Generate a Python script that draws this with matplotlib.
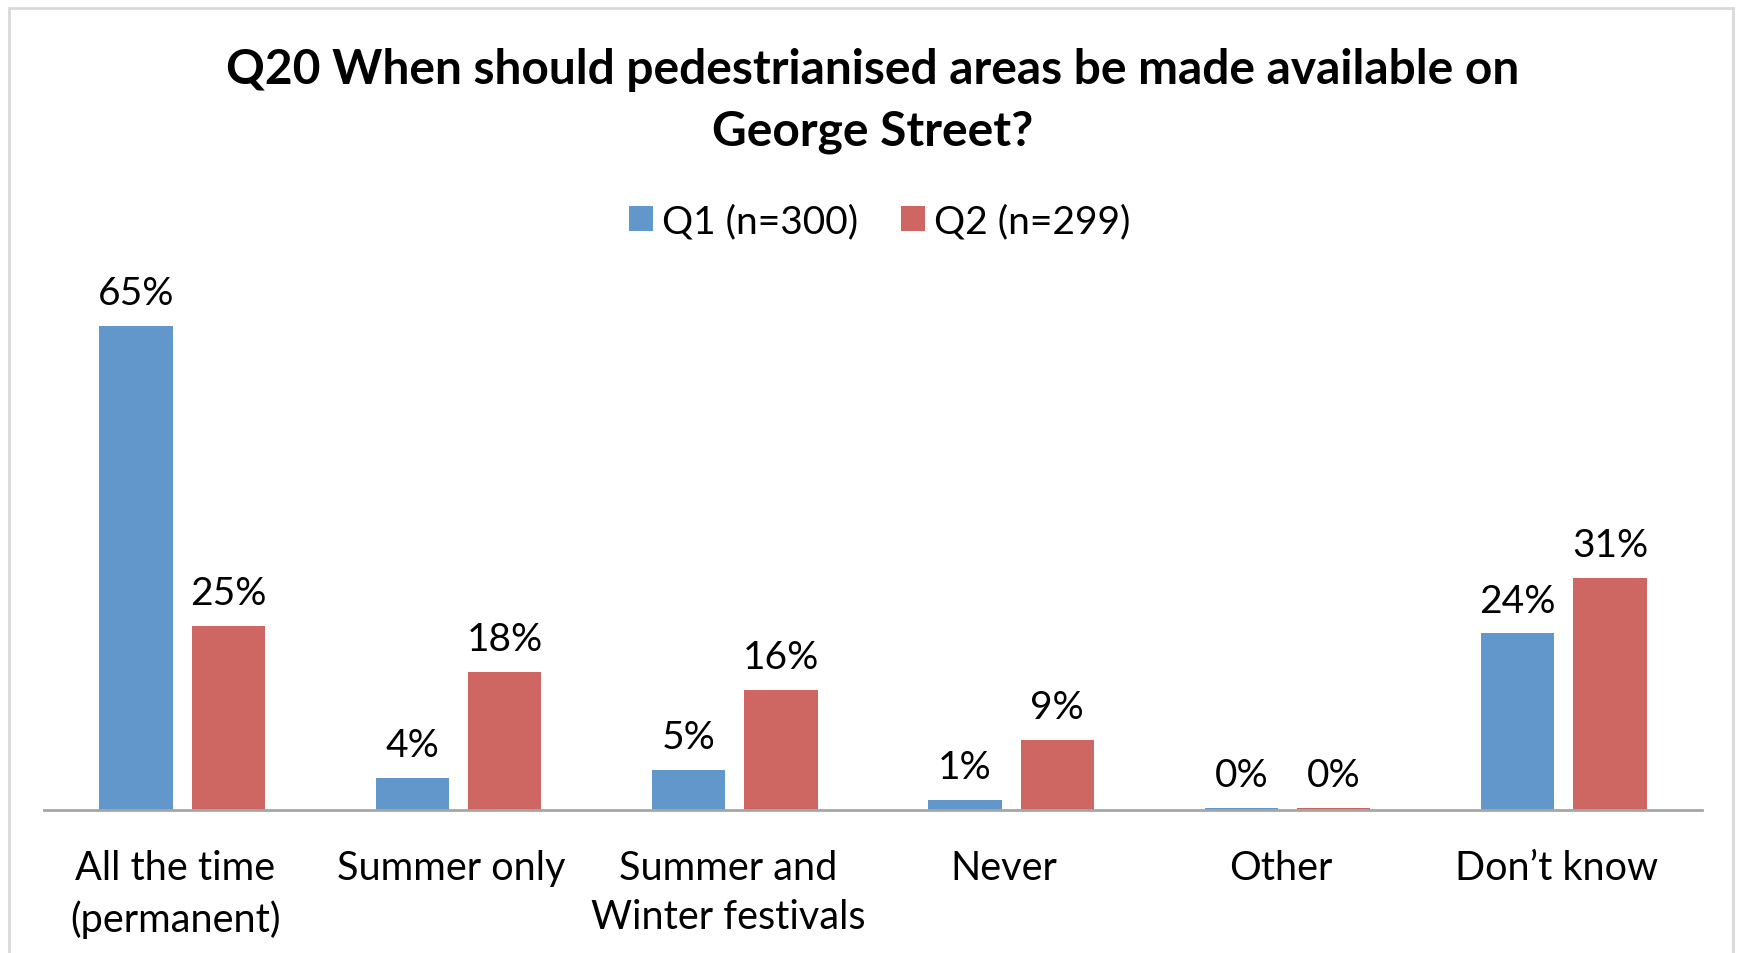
import numpy as np
import matplotlib.pyplot as plt
import matplotlib.transforms as mtransforms
from matplotlib.patches import Rectangle

categories = ["All the time\n(permanent)", "Summer only", "Summer and\nWinter festivals",
              "Never", "Other", "Don\u2019t know"]
q1 = [65.0, 4.3, 5.4, 1.3, 0.3, 23.7]
q2 = [24.7, 18.5, 16.1, 9.4, 0.3, 31.1]
series_names = ["Q1 (n=300)", "Q2 (n=299)"]
title = "Q20 When should pedestrianised areas be made available on\nGeorge Street?"

blue = "#6197CB"
red = "#CE6661"

plt.rcParams['font.family'] = ['Lato', 'DejaVu Sans']

fig = plt.figure(figsize=(17.39, 9.54), dpi=100)
ax = fig.add_axes([44 / 1739, 143 / 954, 1658 / 1739, 521.5 / 954])

x = np.arange(len(categories))
w = 0.265
off = 0.167
b1 = ax.bar(x - off, q1, w, color=blue, label=series_names[0])
b2 = ax.bar(x + off, q2, w, color=red, label=series_names[1])

# data labels above each bar
for bars, vals in ((b1, q1), (b2, q2)):
    for rect, v in zip(bars, vals):
        ax.text(rect.get_x() + rect.get_width() / 2, v + 2.0, f"{v:.0f}%",
                ha='center', va='bottom', fontsize=28)

ax.set_xlim(-0.5, len(categories) - 0.5)
ax.set_ylim(0, 70)
ax.set_xticks(x)
ax.set_xticklabels(categories, fontsize=28.5, linespacing=1.42)
ax.tick_params(axis='x', length=0, pad=28)
# category labels sit a little left of the group centres
shift = mtransforms.ScaledTranslation(-7 / 100, 0, fig.dpi_scale_trans)
for lbl in ax.get_xticklabels():
    lbl.set_transform(lbl.get_transform() + shift)
ax.set_yticks([])
for s in ['top', 'right', 'left']:
    ax.spines[s].set_visible(False)
ax.spines['bottom'].set_color('#A6A6A6')
ax.spines['bottom'].set_linewidth(2)

fig.text(873 / 1739, 1 - 101 / 954, title, ha='center', va='center',
         fontsize=34.5, fontweight='bold', linespacing=1.5)

fig.legend(loc='center', bbox_to_anchor=(880 / 1739, 1 - 222 / 954), ncol=2,
           frameon=False, fontsize=28, handlelength=0.6, handleheight=0.6,
           handletextpad=0.25, columnspacing=1.1)

# light grey chart frame
fig.patches.append(Rectangle((9 / 1739, -0.05), 1724 / 1739, 1.05 - 9 / 954,
                             transform=fig.transFigure, fill=False,
                             edgecolor='#D9D9D9', linewidth=2))

fig.savefig('out.png', dpi=100)
